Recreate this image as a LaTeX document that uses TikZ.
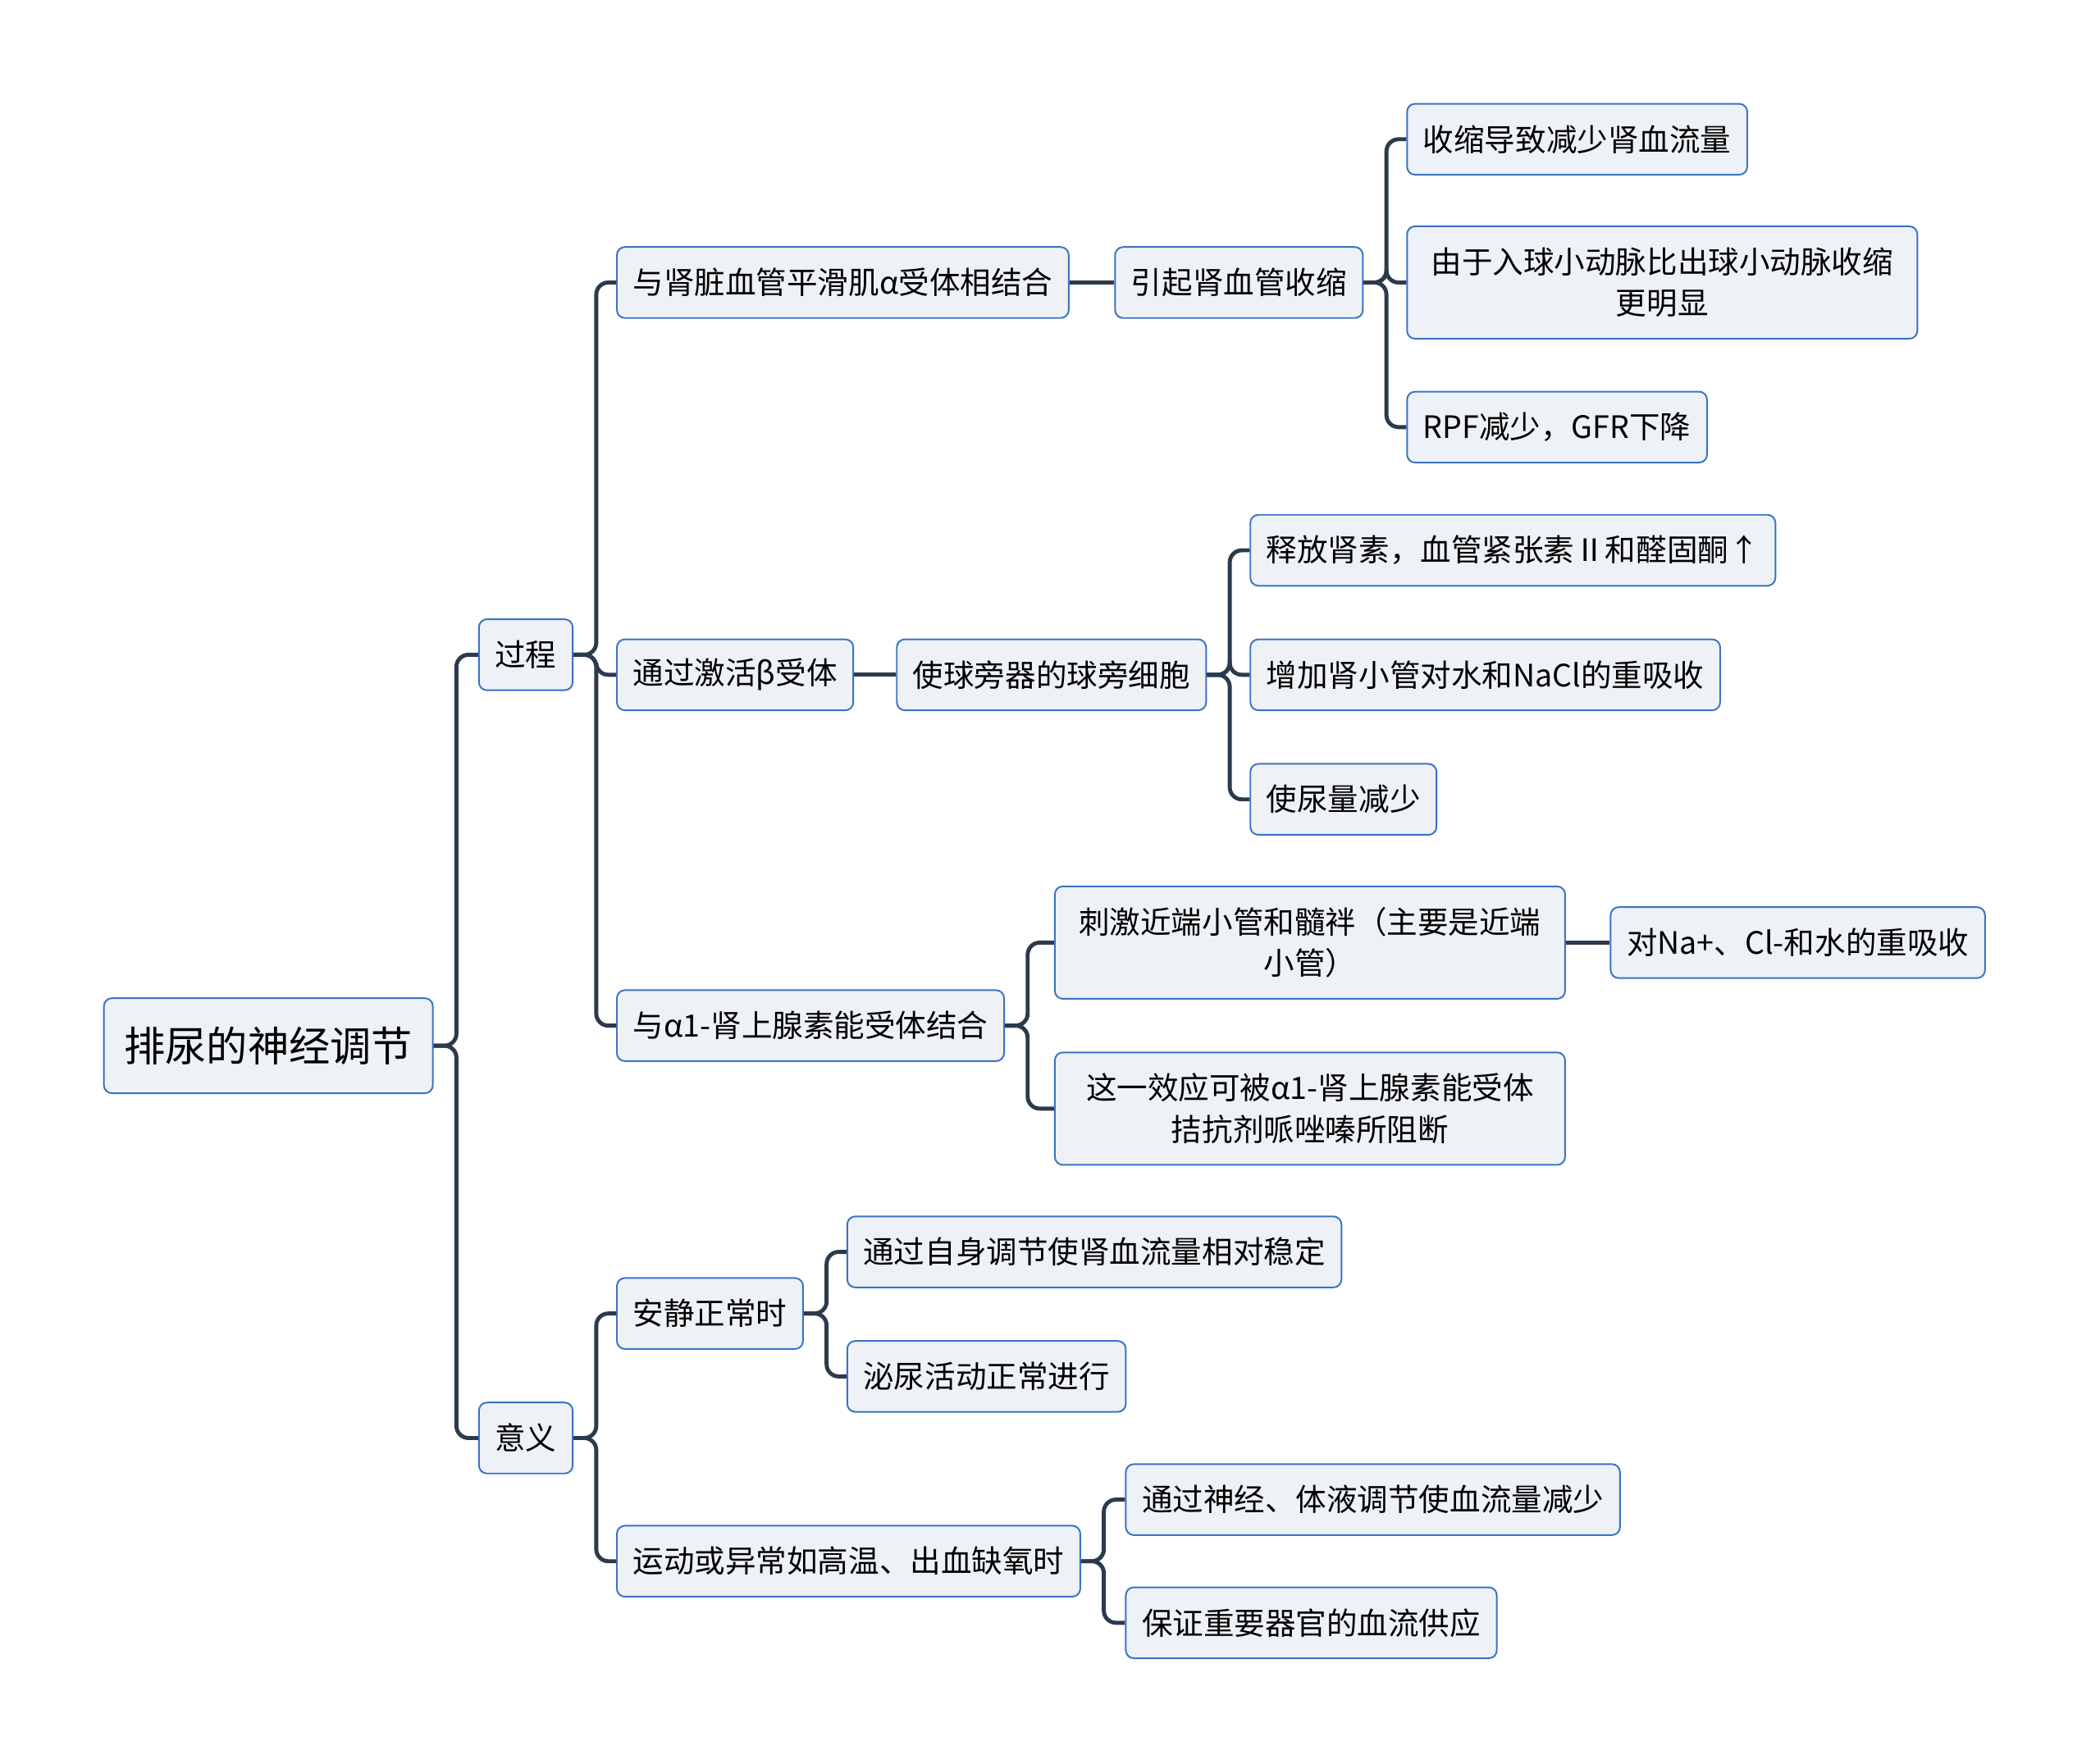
\documentclass[tikz,border=0pt]{standalone}
\usepackage{fontspec}
\setmainfont{Noto Sans CJK SC}
\usetikzlibrary{positioning}
\definecolor{Ink}{HTML}{2C3A4E}
\definecolor{Edge}{HTML}{3A72C6}
\definecolor{Paper}{HTML}{EEF1F5}
\tikzset{
  topic/.style={draw=Edge, line width=0.6pt, rounded corners=3pt, fill=Paper, anchor=west, font=\fontsize{11.5}{15.5}\selectfont, inner xsep=6pt, inner ysep=0pt, minimum height=26.5pt},
  rootbox/.style={topic, font=\fontsize{15.4}{18}\selectfont, inner xsep=7.5pt, minimum height=35.5pt},
  wrapbox/.style={topic, text width=178.5pt, align=center, minimum height=42pt},
  branch/.style={draw=Ink, line width=1.5pt, rounded corners=4.5pt}
}
\begin{document}
\begin{tikzpicture}[x=0.5pt, y=-0.5pt]
  \useasboundingbox (0,0) rectangle (1568,1317);
  \node[rootbox] (root) at (77,781) {排尿的神经调节};

  \node[topic] (proc) at (357,489) {过程};
  \node[topic] (mean) at (357,1074) {意义};

  % 过程
  \node[topic] (alpha) at (460,211) {与肾脏血管平滑肌α受体相结合};
  \node[topic] (constrict) at (832,211) {引起肾血管收缩};
  \node[topic] (flowdown) at (1050,104) {收缩导致减少肾血流量};
  \node[wrapbox] (afferent) at (1050,211) {由于入球小动脉比出球小动脉收缩\\更明显};
  \node[topic] (rpf) at (1050,319) {RPF减少，GFR下降};

  \node[topic] (beta) at (460,504) {通过激活β受体};
  \node[topic] (jgcell) at (669,504) {使球旁器的球旁细胞};
  \node[topic] (renin) at (933,411) {释放肾素，血管紧张素Ⅱ和醛固酮↑};
  \node[topic] (reabs) at (933,504) {增加肾小管对水和NaCl的重吸收};
  \node[topic] (urine) at (933,597) {使尿量减少};

  \node[topic] (alphaone) at (460,766) {与α1-肾上腺素能受体结合};
  \node[wrapbox] (proximal) at (787,704) {刺激近端小管和髓袢（主要是近端\\小管）};
  \node[topic] (naclwater) at (1202,704) {对Na+、Cl-和水的重吸收};
  \node[wrapbox] (prazosin) at (787,828) {这一效应可被α1-肾上腺素能受体\\拮抗剂哌唑嗪所阻断};

  % 意义
  \node[topic] (rest) at (460,981) {安静正常时};
  \node[topic] (autoreg) at (632,935) {通过自身调节使肾血流量相对稳定};
  \node[topic] (normal) at (632,1028) {泌尿活动正常进行};
  \node[topic] (stress) at (460,1166) {运动或异常如高温、出血缺氧时};
  \node[topic] (neural) at (840,1120) {通过神经、体液调节使血流量减少};
  \node[topic] (supply) at (840,1212) {保证重要器官的血流供应};

  \draw[branch] (root.east) -- ++(8.5pt,0) |- (proc.west);
  \draw[branch] (root.east) -- ++(8.5pt,0) |- (mean.west);

  \draw[branch] (proc.east) -- ++(8.5pt,0) |- (alpha.west);
  \draw[branch] (proc.east) -- ++(8.5pt,0) |- (beta.west);
  \draw[branch] (proc.east) -- ++(8.5pt,0) |- (alphaone.west);

  \draw[branch] (alpha.east) -- (constrict.west);
  \draw[branch] (constrict.east) -- ++(8.5pt,0) |- (flowdown.west);
  \draw[branch] (constrict.east) -- ++(8.5pt,0) |- (afferent.west);
  \draw[branch] (constrict.east) -- ++(8.5pt,0) |- (rpf.west);

  \draw[branch] (beta.east) -- (jgcell.west);
  \draw[branch] (jgcell.east) -- ++(8.5pt,0) |- (renin.west);
  \draw[branch] (jgcell.east) -- ++(8.5pt,0) |- (reabs.west);
  \draw[branch] (jgcell.east) -- ++(8.5pt,0) |- (urine.west);

  \draw[branch] (alphaone.east) -- ++(8.5pt,0) |- (proximal.west);
  \draw[branch] (alphaone.east) -- ++(8.5pt,0) |- (prazosin.west);
  \draw[branch] (proximal.east) -- (naclwater.west);

  \draw[branch] (mean.east) -- ++(8.5pt,0) |- (rest.west);
  \draw[branch] (mean.east) -- ++(8.5pt,0) |- (stress.west);
  \draw[branch] (rest.east) -- ++(8.5pt,0) |- (autoreg.west);
  \draw[branch] (rest.east) -- ++(8.5pt,0) |- (normal.west);
  \draw[branch] (stress.east) -- ++(8.5pt,0) |- (neural.west);
  \draw[branch] (stress.east) -- ++(8.5pt,0) |- (supply.west);
\end{tikzpicture}
\end{document}
